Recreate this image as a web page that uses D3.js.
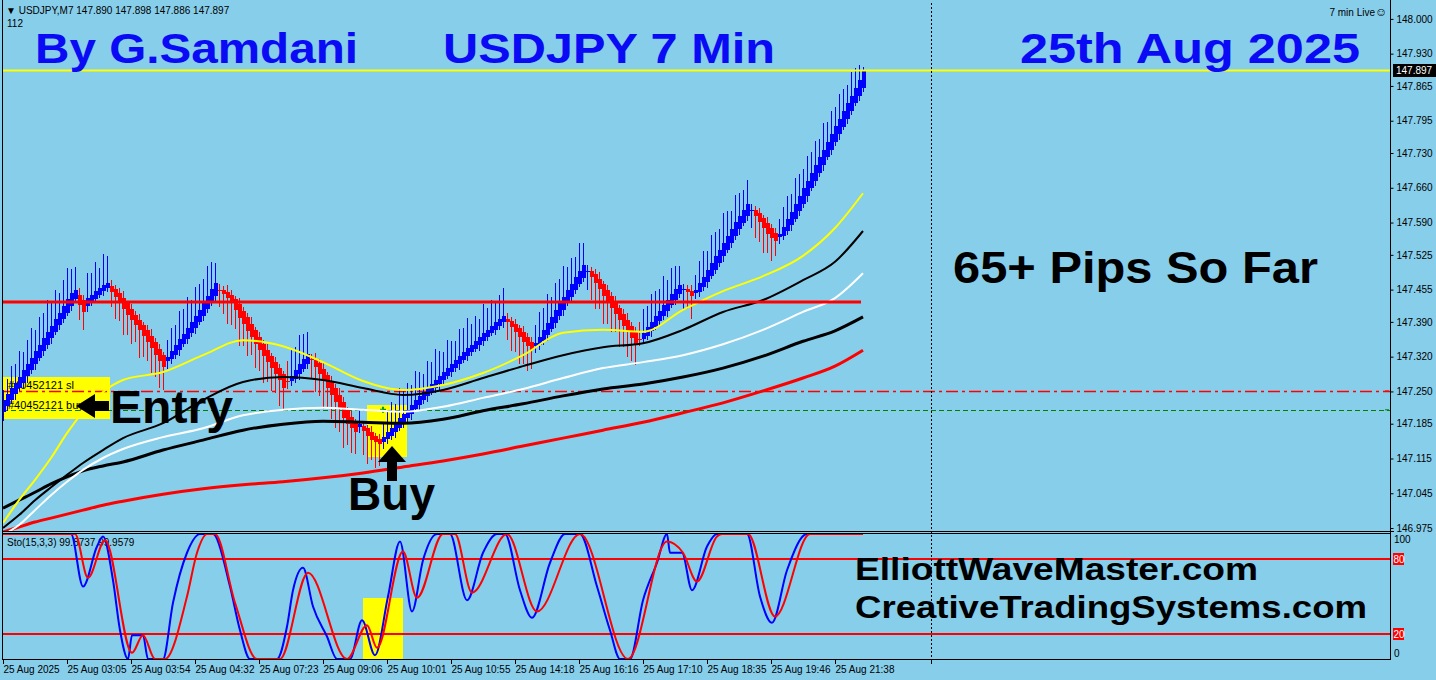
<!DOCTYPE html>
<html><head><meta charset="utf-8">
<script src="https://cdn.jsdelivr.net/npm/d3@7"></script>
<style>
body{margin:0;background:#87ceeb;overflow:hidden}
svg{display:block}
text{font-family:"Liberation Sans",Arial,sans-serif}
</style>
</head><body>
<svg id="c" width="1436" height="680"></svg>
<script>
// ---------------- DATA ----------------
// Heiken-Ashi closes, one per 7-minute bar (216 bars)
const haCloses = [
147.233,147.245,147.257,147.267,147.279,147.293,147.305,147.317,147.331,147.343,
147.358,147.370,147.382,147.396,147.408,147.422,147.436,147.448,147.454,147.424,
147.410,147.438,147.444,147.452,147.458,147.464,147.468,147.450,147.440,147.428,
147.416,147.404,147.394,147.384,147.374,147.362,147.349,147.337,147.323,147.311,
147.299,147.319,147.331,147.343,147.356,147.366,147.378,147.390,147.402,147.414,
147.428,147.442,147.456,147.468,147.454,147.446,147.438,147.430,147.414,147.398,
147.386,147.372,147.360,147.345,147.333,147.321,147.309,147.297,147.285,147.273,
147.257,147.269,147.281,147.293,147.305,147.315,147.325,147.313,147.299,147.285,
147.271,147.257,147.243,147.229,147.215,147.196,147.184,147.176,147.168,147.184,
147.170,147.160,147.152,147.148,147.144,147.158,147.168,147.176,147.186,147.196,
147.205,147.213,147.223,147.233,147.241,147.249,147.259,147.265,147.273,147.281,
147.289,147.297,147.305,147.313,147.321,147.329,147.337,147.343,147.351,147.360,
147.368,147.374,147.382,147.390,147.396,147.402,147.390,147.380,147.370,147.360,
147.349,147.341,147.333,147.347,147.360,147.374,147.388,147.400,147.414,147.428,
147.440,147.454,147.466,147.480,147.492,147.504,147.492,147.480,147.468,147.456,
147.442,147.430,147.418,147.406,147.394,147.382,147.370,147.358,147.343,147.356,
147.368,147.380,147.390,147.402,147.412,147.424,147.434,147.446,147.456,147.464,
147.456,147.450,147.442,147.454,147.468,147.480,147.494,147.509,147.523,147.535,
147.549,147.563,147.577,147.591,147.603,147.615,147.627,147.615,147.603,147.591,
147.579,147.567,147.559,147.553,147.567,147.581,147.597,147.611,147.627,147.643,
147.660,147.674,147.690,147.706,147.722,147.736,147.752,147.768,147.784,147.798,
147.815,147.831,147.845,147.861,147.877,147.897];
const firstOpen = 147.209;
// wick lengths above / below the body, in points (0.001)
const upperWick = [
20,30,44,38,52,36,48,60,42,56,50,64,46,58,40,52,62,48,46,
14,10,
50,44,58,40,62,54,
12,8,10,14,6,10,8,12,6,10,14,8,10,6,
34,46,40,56,50,62,44,58,52,48,60,54,40,
12,8,14,10,6,12,8,10,14,6,10,8,12,6,10,8,6,
40,52,46,58,50,44,
10,14,8,12,6,10,8,14,10,6,12,8,
30,
10,8,12,6,10,
30,44,52,38,60,46,54,40,58,48,36,52,44,62,50,40,56,46,38,54,48,60,42,50,36,58,44,52,40,48,56,
12,8,10,6,12,8,10,
36,50,44,58,40,54,48,62,46,52,40,56,44,
12,8,10,14,6,10,8,12,6,10,14,8,10,
34,48,42,56,50,44,58,40,52,46,38,
10,8,12,
30,44,52,38,56,48,42,60,50,36,54,46,40,48,
12,8,10,6,12,8,10,
30,40,46,36,52,44,38,50,42,48,36,54,40,46,38,50,44,36,48,40,30,6];
const lowerWick = [
18,10,8,12,6,10,14,8,12,6,10,8,12,6,10,8,6,10,8,
30,36,
12,8,10,6,10,8,
30,44,36,52,40,48,34,56,42,38,50,44,54,46,
16,10,8,12,6,10,8,12,6,10,8,6,10,
34,40,52,46,38,56,44,50,36,48,42,54,40,46,38,52,44,
14,10,8,12,6,10,
38,50,44,56,40,48,52,46,60,42,50,44,
12,
48,56,40,52,44,
14,10,8,12,6,10,8,12,6,10,8,12,6,10,14,8,6,10,8,12,6,10,8,6,12,10,8,6,10,8,12,
36,48,40,54,44,50,38,
14,10,8,12,6,10,8,12,6,10,8,6,10,
38,46,52,40,56,44,48,36,54,42,50,46,40,
14,10,8,12,6,10,8,12,6,10,8,
40,34,46,
12,10,8,12,6,10,8,12,6,10,8,12,6,10,
36,44,40,50,38,46,30,
14,10,8,12,6,10,8,12,6,10,8,12,6,10,8,12,6,10,8,6,10,8];

// moving averages sampled at bar indices
const maIdx      = [0,4,8,12,16,20,25,30,40,50,60,70,80,90,100,110,120,130,140,150,160,170,180,190,200,208,215];
const maYellow   = [146.985,147.031,147.072,147.116,147.166,147.209,147.249,147.273,147.289,147.323,147.353,147.341,147.309,147.271,147.253,147.263,147.287,147.323,147.368,147.374,147.370,147.414,147.452,147.482,147.523,147.579,147.649];
const maBlackThin= [146.975,147.001,147.031,147.057,147.082,147.106,147.132,147.156,147.186,147.233,147.269,147.279,147.273,147.257,147.243,147.253,147.277,147.301,147.323,147.339,147.347,147.374,147.410,147.434,147.474,147.511,147.573];
const maWhite    = [146.961,146.981,147.011,147.041,147.068,147.092,147.116,147.134,147.158,147.176,147.202,147.213,147.217,147.213,147.209,147.219,147.237,147.255,147.277,147.297,147.309,147.323,147.345,147.374,147.410,147.438,147.488];
const maBlackThick=[147.015,147.031,147.047,147.064,147.078,147.090,147.100,147.108,147.132,147.152,147.172,147.184,147.190,147.188,147.186,147.194,147.211,147.225,147.241,147.255,147.265,147.279,147.297,147.321,147.351,147.372,147.400];
const maRed      = [146.967,146.977,146.987,146.995,147.003,147.011,147.021,147.029,147.043,147.054,147.062,147.068,147.076,147.086,147.098,147.110,147.124,147.140,147.156,147.172,147.188,147.207,147.227,147.251,147.277,147.301,147.333];

// stochastic (15,3,3)
const kIdx = [0,17,20,23.5,25,27.5,29.25,31.25,32.25,35,36.25,40,42.5,46,49.25,52.5,56.75,59.25,61.75,68.5,71,72.5,75,77.5,81,83.5,86.75,89.75,93,96.25,99.25,102.25,105,108.5,111.75,116,120,123.5,125.5,129.25,132.25,136.75,140.5,144.25,148.5,151.75,154.25,156.75,160,163.5,166,166.75,169.75,172.25,176,178.5,186,189.25,192.25,196,201,215];
const kVal = [100,100,58,90,98,63,23,0,19,19,0,0,45,85,100,100,58,23,0,0,26,55,73,42,18,0,0,31,3,50,94,38,79,100,100,47,85,100,100,55,33,77,100,100,58,23,0,0,47,77,100,85,85,55,90,100,100,50,29,71,100,100];
const dIdx = [0,18,21.25,25.5,32.25,35,38,40.5,46,48.5,51,53,58,63.5,69.25,76.25,86,91,93.5,100,103.5,110,113,117.25,126,133.5,144.25,156.25,166,170,173.5,178.5,179.75,186.25,193,201.75,215];
const dVal = [100,100,65,95,5,19,0,0,50,85,100,100,45,0,0,69,0,27,9,86,49,100,100,53,100,38,100,0,94,85,62,98,100,100,34,100,100];

const priceTicks = [148.000,147.930,147.865,147.795,147.730,147.660,147.590,147.525,147.455,147.390,147.320,147.250,147.185,147.115,147.045,146.975];
const timeIdx = [0,16,32,48,64,80,96,112,128,144,160,176,192,208];
const timeLabels = ["25 Aug 2025","25 Aug 03:05","25 Aug 03:54","25 Aug 04:32","25 Aug 07:23","25 Aug 09:06","25 Aug 10:01","25 Aug 10:55","25 Aug 14:18","25 Aug 16:16","25 Aug 17:10","25 Aug 18:35","25 Aug 19:46","25 Aug 21:38"];
const lastPrice = 147.897, resistance = 147.430, slLevel = 147.251, entryLevel = 147.213;
const separatorIdx = 232;

// ---------------- DRAW ----------------
const svg = d3.select("#c");
const W = 1436, H = 680, AX = 1390;
const x = d3.scaleLinear().domain([0,215]).range([3,863]);
const y = d3.scaleLinear().domain([146.967,148.032]).range([532,3]);
const ys = d3.scaleLinear().domain([0,100]).range([659,534]);
const BLUE="#0000ff", RED="#ff0000";

svg.append("rect").attr("width",W).attr("height",H).attr("fill","#87ceeb");
const defs = svg.append("defs");
defs.append("clipPath").attr("id","cm").append("rect").attr("x",3).attr("y",3).attr("width",AX-3).attr("height",528);
defs.append("clipPath").attr("id","cs").append("rect").attr("x",3).attr("y",534).attr("width",AX-3).attr("height",125);

const main = svg.append("g").attr("clip-path","url(#cm)");

// trade box
main.append("rect").attr("x",3).attr("y",377).attr("width",107).attr("height",42).attr("fill","#ffff00");
main.append("text").attr("x",8).attr("y",389).attr("font-size",11).text("#40452121 sl");
main.append("text").attr("x",8).attr("y",409).attr("font-size",11).text("#40452121 buy");
// buy highlight
main.append("rect").attr("x",367).attr("y",405).attr("width",40).attr("height",52).attr("fill","#ffff00");

// order lines
main.append("line").attr("x1",3).attr("x2",AX).attr("y1",Math.round(y(slLevel))+0.5).attr("y2",Math.round(y(slLevel))+0.5)
  .attr("stroke",RED).attr("stroke-width",1.5).attr("stroke-dasharray","12,4,3,4");
main.append("line").attr("x1",3).attr("x2",AX).attr("y1",Math.round(y(entryLevel))+0.5).attr("y2",Math.round(y(entryLevel))+0.5)
  .attr("stroke","#008000").attr("stroke-width",1).attr("stroke-dasharray","5,3").attr("shape-rendering","crispEdges");

// candles
const bars = [];
let o = firstOpen;
haCloses.forEach((c,i)=>{
  if(i>0){ o = (bars[i-1].o + bars[i-1].c)/2; }
  const top = Math.max(o,c), bot = Math.min(o,c);
  bars.push({i,o,c,top,bot,hi:top+upperWick[i]*0.001,lo:bot-lowerWick[i]*0.001,col:c>=o?BLUE:RED});
});
const cg = main.append("g").attr("shape-rendering","crispEdges");
cg.selectAll("line").data(bars).join("line")
  .attr("x1",d=>Math.round(x(d.i))+0.5).attr("x2",d=>Math.round(x(d.i))+0.5)
  .attr("y1",d=>y(d.hi)).attr("y2",d=>y(d.lo)).attr("stroke",d=>d.col).attr("stroke-width",1);
cg.selectAll("rect").data(bars).join("rect")
  .attr("x",d=>Math.round(x(d.i))-1).attr("width",4)
  .attr("y",d=>y(d.top)).attr("height",d=>Math.max(1,y(d.bot)-y(d.top))).attr("fill",d=>d.col);

// green entry marker
const ex = x(95), ey = y(entryLevel);
main.append("path").attr("d",`M${ex-3},${ey}h6M${ex},${ey-3}v6`).attr("stroke","#00a000").attr("stroke-width",2);

// moving averages
const maLine = d3.line().x((d,k)=>x(maIdx[k])).y(d=>y(d)).curve(d3.curveMonotoneX);
[[maRed,RED,3],[maBlackThick,"#000",3],[maWhite,"#fff",2],[maBlackThin,"#000",2],[maYellow,"#ffff00",2]].forEach(([arr,col,w])=>{
  main.append("path").attr("d",maLine(arr)).attr("fill","none").attr("stroke",col).attr("stroke-width",w);
});

// resistance line
main.append("line").attr("x1",3).attr("x2",x(214.5)).attr("y1",y(resistance)).attr("y2",y(resistance)).attr("stroke",RED).attr("stroke-width",3);
// current price line
main.append("line").attr("x1",3).attr("x2",AX).attr("y1",Math.round(y(lastPrice))+0.5).attr("y2",Math.round(y(lastPrice))+0.5).attr("stroke","#ffff00").attr("stroke-width",2);

// ---------------- STOCHASTIC ----------------
const sub = svg.append("g").attr("clip-path","url(#cs)");
sub.append("rect").attr("x",363).attr("y",598).attr("width",40).attr("height",61).attr("fill","#ffff00");
sub.append("text").attr("x",7).attr("y",546).attr("font-size",10).text("Sto(15,3,3) 99.8737 99.9579");
[80,20].forEach(v=>sub.append("line").attr("x1",3).attr("x2",AX).attr("y1",ys(v)).attr("y2",ys(v)).attr("stroke",RED).attr("stroke-width",2));
const kLine = d3.line().x((d,k)=>x(kIdx[k])).y(d=>ys(d)).curve(d3.curveMonotoneX);
const dLine = d3.line().x((d,k)=>x(dIdx[k])).y(d=>ys(d)).curve(d3.curveMonotoneX);
sub.append("path").attr("d",kLine(kVal)).attr("fill","none").attr("stroke",BLUE).attr("stroke-width",2);
sub.append("path").attr("d",dLine(dVal)).attr("fill","none").attr("stroke",RED).attr("stroke-width",2);

// ---------------- FRAMES & AXES ----------------
const fr = svg.append("g").attr("stroke","#000").attr("stroke-width",1).attr("shape-rendering","crispEdges");
fr.append("line").attr("x1",2.5).attr("x2",2.5).attr("y1",0).attr("y2",660);
fr.append("line").attr("x1",AX+0.5).attr("x2",AX+0.5).attr("y1",0).attr("y2",660);
fr.append("line").attr("x1",2).attr("x2",AX+4).attr("y1",531.5).attr("y2",531.5);
fr.append("line").attr("x1",2).attr("x2",AX+1).attr("y1",533.5).attr("y2",533.5);
fr.append("line").attr("x1",2).attr("x2",AX+1).attr("y1",659.5).attr("y2",659.5);

// separator dotted line
svg.append("line").attr("x1",x(separatorIdx)+0.5).attr("x2",x(separatorIdx)+0.5).attr("y1",3).attr("y2",659)
  .attr("stroke","#000").attr("stroke-dasharray","2,2").attr("shape-rendering","crispEdges");

// right price axis
const ra = svg.append("g").attr("transform",`translate(${AX+0.5},0)`)
  .call(d3.axisRight(y).tickValues(priceTicks).tickFormat(d3.format(".3f")).tickSize(3).tickPadding(3));
ra.select(".domain").remove();
ra.selectAll("line").attr("stroke","#000");
ra.selectAll("text").attr("font-size",10).attr("fill","#000").attr("font-family","Liberation Sans, Arial");
// order markers on axis
svg.append("line").attr("x1",AX-5).attr("x2",AX-1).attr("y1",y(slLevel)).attr("y2",y(slLevel)).attr("stroke",RED);
svg.append("line").attr("x1",AX-5).attr("x2",AX-1).attr("y1",y(entryLevel)).attr("y2",y(entryLevel)).attr("stroke","#008000");
// current price box
svg.append("rect").attr("x",AX+3).attr("y",Math.round(y(lastPrice))-6).attr("width",W-AX-3).attr("height",13).attr("fill","#000");
svg.append("text").attr("x",AX+6).attr("y",Math.round(y(lastPrice))+4).attr("font-size",10).attr("fill","#fff").text(lastPrice.toFixed(3));

// stochastic axis labels
svg.append("text").attr("x",AX+4).attr("y",ys(100)+9).attr("font-size",10).text("100");
svg.append("text").attr("x",AX+4).attr("y",ys(0)-2).attr("font-size",10).text("0");
[80,20].forEach(v=>{
  svg.append("rect").attr("x",AX+3).attr("y",ys(v)-6).attr("width",11).attr("height",12).attr("fill",RED);
  svg.append("text").attr("x",AX+3.5).attr("y",ys(v)+4).attr("font-size",10).attr("fill","#fff").text(v);
});

// time axis
const ta = svg.append("g").attr("transform","translate(0,660)")
  .call(d3.axisBottom(x).tickValues(timeIdx.concat([separatorIdx])).tickSize(4).tickPadding(2)
  .tickFormat((d,k)=>k<timeLabels.length?timeLabels[k]:""));
ta.select(".domain").remove();
ta.selectAll("line").attr("stroke","#000");
ta.selectAll("text").attr("text-anchor","start").attr("font-size",10).attr("fill","#000").attr("font-family","Liberation Sans, Arial");

// header texts
svg.append("text").attr("x",6).attr("y",14).attr("font-size",10).text("▼ USDJPY,M7  147.890 147.898 147.886 147.897");
svg.append("text").attr("x",7).attr("y",27).attr("font-size",10).text("112");
svg.append("text").attr("x",1375).attr("y",16).attr("text-anchor","end").attr("font-size",10).text("7 min Live");
svg.append("text").attr("x",1375).attr("y",16).attr("font-size",12).attr("font-family","DejaVu Sans").text("☺");

// annotations
function big(t,x0,y0,fs,len,col){
  svg.append("text").attr("x",x0).attr("y",y0).attr("font-size",fs).attr("font-weight","bold")
    .attr("fill",col).attr("textLength",len).attr("lengthAdjust","spacingAndGlyphs").text(t);
}
big("By G.Samdani",35,63,42,323,"#0a0af5");
big("USDJPY 7 Min",443,63,42,332,"#0a0af5");
big("25th Aug 2025",1020,63,42,340,"#0a0af5");
big("65+ Pips So Far",953,283,44,365,"#000");
big("Entry",110,423,46,123,"#000");
big("Buy",348,510,46,87,"#000");
big("ElliottWaveMaster.com",855,580,32,403,"#000");
big("CreativeTradingSystems.com",855,618,32,512,"#000");
// arrows
svg.append("path").attr("d","M76,406 L95,394 L95,401 L109,401 L109,411 L95,411 L95,418 Z").attr("fill","#000");
svg.append("path").attr("d","M392,446 L406,462 L397,462 L397,481 L387,481 L387,462 L378,462 Z").attr("fill","#000");
</script>
</body></html>
